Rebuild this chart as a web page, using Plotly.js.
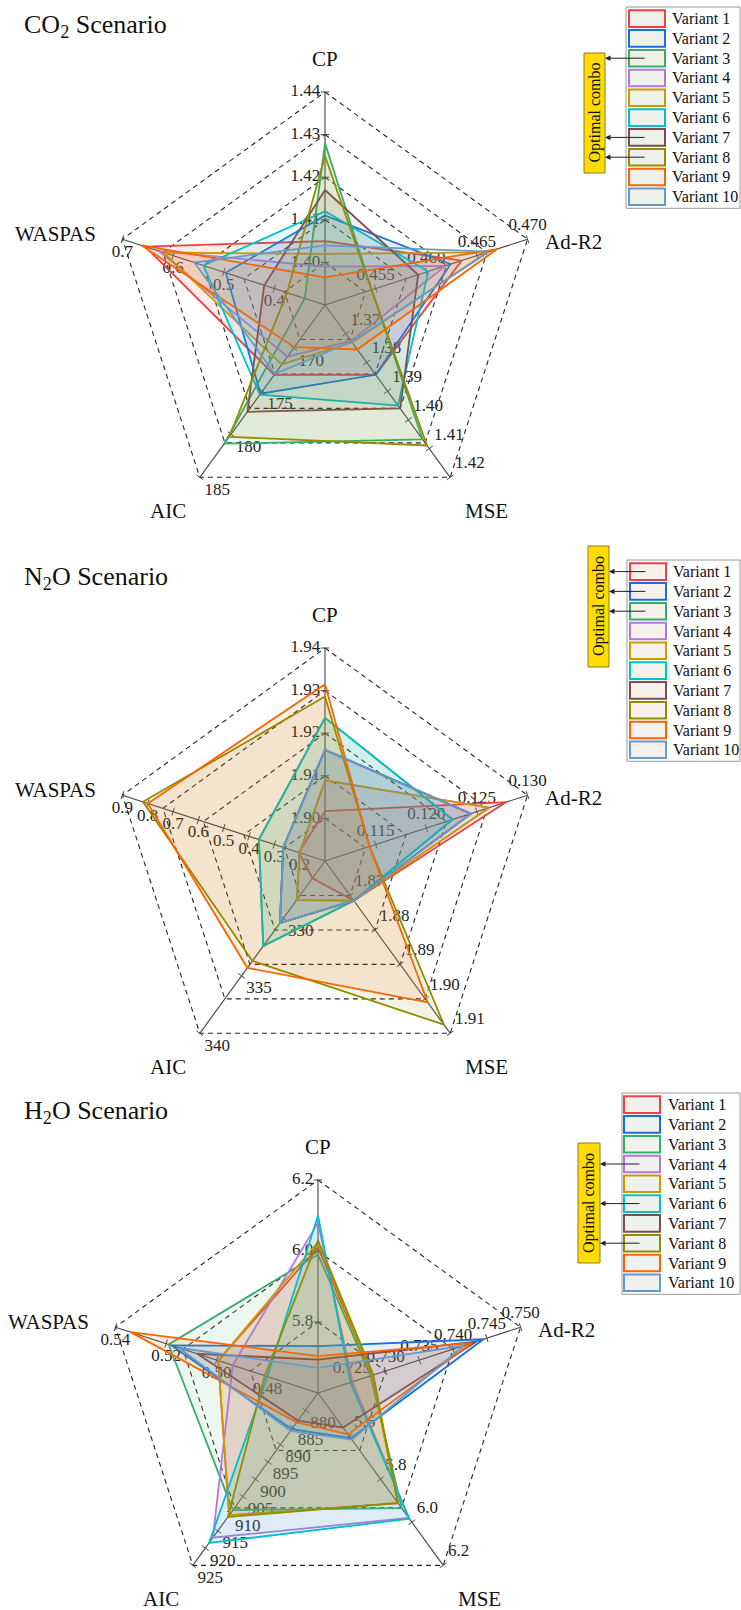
<!DOCTYPE html>
<html>
<head>
<meta charset="utf-8">
<script src="https://cdn.plot.ly/plotly-3.0.1.min.js"></script>
<style>
  html, body { margin: 0; padding: 0; background: #ffffff; }
  #chart { width: 741px; height: 1610px; }
</style>
</head>
<body>
<div id="chart"></div>
<script>
// ---- shared categories ----
const axisNames = ['CP', 'Ad-R2', 'MSE', 'AIC', 'WASPAS'];
const variantNames = ['Variant 1', 'Variant 2', 'Variant 3', 'Variant 4', 'Variant 5',
                      'Variant 6', 'Variant 7', 'Variant 8', 'Variant 9', 'Variant 10'];
const variantColors = ['#F14040', '#1A6FDF', '#37AD6B', '#B177DE', '#CC9900',
                       '#00C0CC', '#7D4E4E', '#8E8E00', '#FB6501', '#6699CC'];

// ---- CO2 scenario ----
const co2Range = [[1.39, 1.44], [0.450, 0.470], [1.36, 1.42], [165, 185], [0.3, 0.7]];
const co2Ticks = [['1.40', '1.41', '1.42', '1.43', '1.44'],
                  ['0.455', '0.460', '0.465', '0.470'],
                  ['1.37', '1.38', '1.39', '1.40', '1.41', '1.42'],
                  ['170', '175', '180', '185'],
                  ['0.4', '0.5', '0.6', '0.7']];
const co2CP     = [1.405, 1.411, 1.428, 1.399, 1.402, 1.412, 1.417, 1.425, 1.3965, 1.404];
const co2AdR2   = [0.4635, 0.4624, 0.4546, 0.4619, 0.4660, 0.4602, 0.4592, 0.4546, 0.4670, 0.4662];
const co2MSE    = [1.3843, 1.3843, 1.4068, 1.3725, 1.3730, 1.3950, 1.3960, 1.4089, 1.3755, 1.3728];
const co2AIC    = [173.1, 175.3, 181.1, 171.0, 171.9, 175.4, 177.4, 180.3, 169.9, 173.0];
const co2WASPAS = [0.655, 0.496, 0.340, 0.628, 0.619, 0.540, 0.420, 0.375, 0.662, 0.558];
const co2Optimal = [3, 7, 8];

// ---- N2O scenario ----
const n2oRange = [[1.89, 1.94], [0.110, 0.130], [1.86, 1.91], [325, 340], [0.1, 0.9]];
const n2oTicks = [['1.90', '1.91', '1.92', '1.93', '1.94'],
                  ['0.115', '0.120', '0.125', '0.130'],
                  ['1.87', '1.88', '1.89', '1.90', '1.91'],
                  ['330', '335', '340'],
                  ['0.2', '0.3', '0.4', '0.5', '0.6', '0.7', '0.8', '0.9']];
const n2oCP     = [1.9017, 1.9161, 1.9236, 1.9089, 1.9089, 1.9236, 1.9161, 1.9286, 1.9315, 1.9161];
const n2oAdR2   = [0.1279, 0.1244, 0.1226, 0.1262, 0.1262, 0.1226, 0.1244, 0.1144, 0.1144, 0.1244];
const n2oMSE    = [1.8715, 1.8715, 1.8715, 1.8715, 1.8715, 1.8715, 1.8715, 1.9075, 1.9010, 1.8715];
const n2oAIC    = [326.5, 330.4, 332.4, 328.4, 328.4, 332.4, 330.4, 333.7, 334.3, 330.4];
const n2oWASPAS = [0.204, 0.265, 0.361, 0.200, 0.200, 0.361, 0.265, 0.819, 0.800, 0.265];
const n2oOptimal = [1, 2, 3];

// ---- H2O scenario ----
const h2oRange = [[5.6, 6.2], [0.720, 0.750], [5.4, 6.2], [875, 925], [0.46, 0.54]];
const h2oTicks = [['5.8', '6.0', '6.2'],
                  ['0.725', '0.730', '0.735', '0.740', '0.745', '0.750'],
                  ['5.6', '5.8', '6.0', '6.2'],
                  ['880', '885', '890', '895', '900', '905', '910', '915', '920', '925'],
                  ['0.48', '0.50', '0.52', '0.54']];
const h2oCP     = [6.010, 5.732, 5.990, 6.080, 6.025, 6.100, 5.694, 6.030, 5.704, 5.671];
const h2oAdR2   = [0.7280, 0.7445, 0.7278, 0.7251, 0.7280, 0.7248, 0.7434, 0.7282, 0.7427, 0.7416];
const h2oMSE    = [5.912, 5.610, 5.935, 5.980, 5.912, 5.984, 5.560, 5.910, 5.592, 5.616];
const h2oAIC    = [910.5, 885.5, 909.0, 917.0, 910.5, 918.5, 883.0, 911.0, 883.5, 886.0];
const h2oWASPAS = [0.4994, 0.5180, 0.5190, 0.4937, 0.4994, 0.4800, 0.5077, 0.4810, 0.5340, 0.5150];
const h2oOptimal = [4, 6, 8];

// ---- page geometry (pixels) ----
const W = 741, H = 1610;
const RADIUS = 213;          // pixel length of a full axis
const RMAX = 1.015;          // a little headroom so the outer web is not clipped
const FONT = 'Liberation Serif, Times New Roman, serif';

const panels = [
  { key: 'polar',  title: 'CO<sub>2</sub> Scenario', cx: 325, cy: 305, titleY: 26,
    range: co2Range, ticks: co2Ticks, cols: [co2CP, co2AdR2, co2MSE, co2AIC, co2WASPAS],
    optimal: co2Optimal, legTop: 7, legLeft: 626, swLeft: 629, txtLeft: 670,
    boxX: [584, 605], boxY: [53, 173], swFill: '#EEF0EA' },
  { key: 'polar2', title: 'N<sub>2</sub>O Scenario', cx: 325, cy: 861, titleY: 578,
    range: n2oRange, ticks: n2oTicks, cols: [n2oCP, n2oAdR2, n2oMSE, n2oAIC, n2oWASPAS],
    optimal: n2oOptimal, legTop: 560, legLeft: 627, swLeft: 630, txtLeft: 671,
    boxX: [588, 609], boxY: [546, 667], swFill: '#F6F1EA' },
  { key: 'polar3', title: 'H<sub>2</sub>O Scenario', cx: 318, cy: 1393, titleY: 1112,
    range: h2oRange, ticks: h2oTicks, cols: [h2oCP, h2oAdR2, h2oMSE, h2oAIC, h2oWASPAS],
    optimal: h2oOptimal, legTop: 1093, legLeft: 622, swLeft: 624, txtLeft: 666,
    boxX: [578, 600], boxY: [1143, 1263], swFill: '#EEF1EC' }
];

// label placement per axis: CP, Ad-R2, MSE, AIC, WASPAS
const tickTextPos = ['middle left', 'top center', 'top right', 'bottom right', 'bottom center'];
const tickMarkAngle = [0, 72, -36, 36, -72];
// axis-name offsets from the web centre (px) and their anchors
const nameOffset = [[0, -246], [218, -63], [161, 206], [-157, 206], [-227, -71]];
const nameAnchor = ['center', 'left', 'center', 'center', 'right'];

function rgba(hex, a) {
  const n = parseInt(hex.slice(1), 16);
  return 'rgba(' + ((n >> 16) & 255) + ',' + ((n >> 8) & 255) + ',' + (n & 255) + ',' + a + ')';
}
const px = x => x / W;
const py = y => 1 - y / H;

const traces = [];
const layout = {
  width: W, height: H, margin: { l: 0, r: 0, t: 0, b: 0 },
  paper_bgcolor: '#ffffff', plot_bgcolor: '#ffffff',
  showlegend: false, hovermode: false,
  font: { family: FONT, color: '#111' },
  shapes: [], annotations: []
};

panels.forEach(p => {
  const norm = (v, k) => (v - p.range[k][0]) / (p.range[k][1] - p.range[k][0]);
  const closeTheta = axisNames.concat([axisNames[0]]);
  const half = RADIUS * RMAX;

  layout[p.key] = {
    domain: { x: [px(p.cx - half), px(p.cx + half)], y: [py(p.cy + half), py(p.cy - half)] },
    bgcolor: 'rgba(0,0,0,0)',
    radialaxis: { range: [0, RMAX], showline: false, showgrid: false, showticklabels: false, ticks: '' },
    angularaxis: { rotation: 90, direction: 'clockwise', showline: false, showgrid: false,
                   showticklabels: false, ticks: '', categoryarray: axisNames, type: 'category' }
  };

  // web: dashed rings at the CP tick positions
  p.ticks[0].forEach(t => {
    const f = norm(parseFloat(t), 0);
    traces.push({ type: 'scatterpolar', subplot: p.key, mode: 'lines', cliponaxis: false,
      r: closeTheta.map(() => f), theta: closeTheta,
      line: { color: '#262626', width: 1.1, dash: '5px,4px' }, hoverinfo: 'skip' });
  });

  // spokes
  axisNames.forEach(a => {
    traces.push({ type: 'scatterpolar', subplot: p.key, mode: 'lines', cliponaxis: false,
      r: [0, 1], theta: [a, a], line: { color: '#454545', width: 1.1 }, hoverinfo: 'skip' });
  });

  // per-axis tick marks and tick labels
  axisNames.forEach((a, k) => {
    const rs = p.ticks[k].map(t => norm(parseFloat(t), k));
    traces.push({ type: 'scatterpolar', subplot: p.key, mode: 'markers+text', cliponaxis: false,
      r: rs, theta: rs.map(() => a), text: p.ticks[k], textposition: tickTextPos[k],
      textfont: { family: FONT, size: 17, color: '#222222' },
      marker: { symbol: 'line-ew', size: 6, angle: tickMarkAngle[k],
                line: { color: '#444', width: 1 }, color: '#444' },
      hoverinfo: 'skip' });
  });

  // variants
  variantNames.forEach((name, v) => {
    const r = p.cols.map((col, k) => norm(col[v], k));
    traces.push({ type: 'scatterpolar', subplot: p.key, mode: 'lines', name: name, cliponaxis: false,
      r: r.concat([r[0]]), theta: closeTheta,
      fill: 'toself', fillcolor: rgba(variantColors[v], 0.1),
      line: { color: variantColors[v], width: 1.8 }, hoverinfo: 'skip' });
  });

  // axis names around the web
  axisNames.forEach((a, k) => {
    layout.annotations.push({ xref: 'paper', yref: 'paper',
      x: px(p.cx + nameOffset[k][0]), y: py(p.cy + nameOffset[k][1]),
      xanchor: nameAnchor[k], yanchor: 'middle', showarrow: false, text: a,
      font: { family: FONT, size: 21, color: '#111' } });
  });

  // scenario title
  layout.annotations.push({ xref: 'paper', yref: 'paper', x: px(22), y: py(p.titleY),
    xanchor: 'left', yanchor: 'middle', showarrow: false, text: p.title,
    font: { family: FONT, size: 26, color: '#111' } });

  // legend box
  const rowH = 19.8, firstRow = p.legTop + 11.6;
  layout.shapes.push({ type: 'rect', xref: 'paper', yref: 'paper',
    x0: px(p.legLeft), x1: px(740), y0: py(firstRow + 9 * rowH + 11.5), y1: py(p.legTop),
    line: { color: '#9a9a9a', width: 1 }, fillcolor: '#ffffff' });
  variantNames.forEach((name, v) => {
    const yc = firstRow + v * rowH;
    layout.shapes.push({ type: 'rect', xref: 'paper', yref: 'paper',
      x0: px(p.swLeft), x1: px(p.swLeft + 36), y0: py(yc + 8.3), y1: py(yc - 8.3),
      line: { color: variantColors[v], width: 2 }, fillcolor: p.swFill });
    layout.annotations.push({ xref: 'paper', yref: 'paper', x: px(p.txtLeft), y: py(yc),
      xanchor: 'left', yanchor: 'middle', showarrow: false, text: name,
      font: { family: FONT, size: 16, color: '#111' } });
  });

  // "Optimal combo" tag with arrows from the chosen variants
  layout.shapes.push({ type: 'rect', xref: 'paper', yref: 'paper',
    x0: px(p.boxX[0]), x1: px(p.boxX[1]), y0: py(p.boxY[1]), y1: py(p.boxY[0]),
    line: { color: '#8c7d2a', width: 1 }, fillcolor: '#FFDC00' });
  layout.annotations.push({ xref: 'paper', yref: 'paper',
    x: px((p.boxX[0] + p.boxX[1]) / 2), y: py((p.boxY[0] + p.boxY[1]) / 2),
    xanchor: 'center', yanchor: 'middle', showarrow: false, textangle: -90,
    text: 'Optimal combo', font: { family: FONT, size: 16, color: '#111' } });
  p.optimal.forEach(idx => {
    const yc = firstRow + (idx - 1) * rowH;
    layout.annotations.push({ xref: 'paper', yref: 'paper', x: px(p.boxX[1]), y: py(yc),
      ax: (p.swLeft + 17) - p.boxX[1], ay: 0, text: '', showarrow: true,
      arrowhead: 2, arrowsize: 1.1, arrowwidth: 1, arrowcolor: '#222', standoff: 0 });
  });
});

Plotly.newPlot('chart', traces, layout, { staticPlot: true, displayModeBar: false });
</script>
</body>
</html>
